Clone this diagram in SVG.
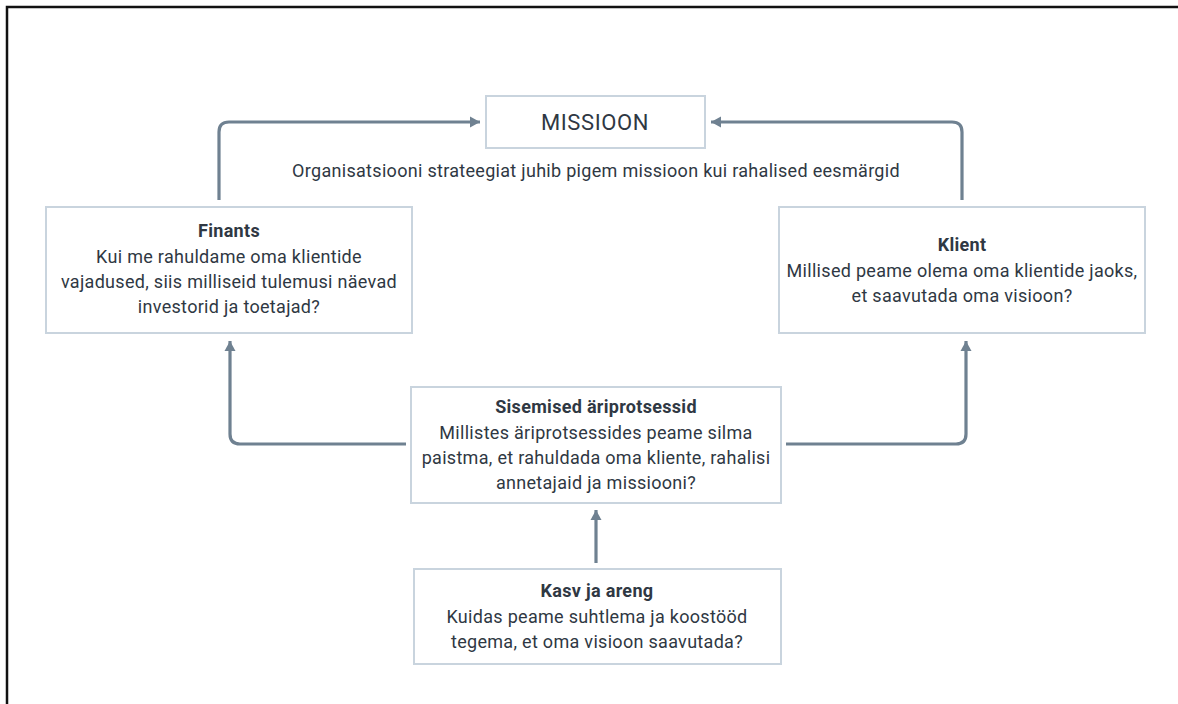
<svg xmlns="http://www.w3.org/2000/svg" width="1178" height="704" viewBox="0 0 1178 704">
  <style>
    .box { fill: #ffffff; stroke: #c9d4de; stroke-width: 2; }
    .txt { font-family: Roboto, "Noto Sans", "Liberation Sans", sans-serif; font-size: 18px; letter-spacing: 0.3px; fill: #2f3843; text-anchor: middle; }
    .ttl { font-weight: bold; }
    .big { font-size: 22px; letter-spacing: 0.6px; }
    .edge { fill: none; stroke: #6f8191; stroke-width: 3.2; stroke-linejoin: round; }
  </style>
  <defs>
    <marker id="arrow" markerUnits="userSpaceOnUse" markerWidth="14" markerHeight="14" viewBox="0 0 14 14" refX="12" refY="7" orient="auto">
      <path d="M2,1.5 L12,7 L2,12.5 Z" fill="#6f8191"/>
    </marker>
  </defs>

  <rect width="1178" height="704" fill="#ffffff"/>
  <!-- outer frame (top and left edges) -->
  <path d="M7,704 V7 H1178" fill="none" stroke="#111111" stroke-width="2.5"/>

  <g id="connectors">
    <path class="edge" d="M219,200 V132 Q219,122 229,122 H480" marker-end="url(#arrow)"/>
    <path class="edge" d="M962,200 V132 Q962,122 952,122 H711" marker-end="url(#arrow)"/>
    <path class="edge" d="M406,444 H240 Q230,444 230,434 V341" marker-end="url(#arrow)"/>
    <path class="edge" d="M786,444 H956 Q966,444 966,434 V341" marker-end="url(#arrow)"/>
    <path class="edge" d="M596,563 V510" marker-end="url(#arrow)"/>
  </g>

  <g id="missioon">
    <rect class="box" x="486" y="96" width="219" height="52"/>
    <text class="txt big" x="595" y="130">MISSIOON</text>
  </g>

  <g id="caption">
    <text class="txt" x="596" y="177">Organisatsiooni strateegiat juhib pigem missioon kui rahalised eesmärgid</text>
  </g>

  <g id="finants">
    <rect class="box" x="46" y="207" width="366" height="126"/>
    <text class="txt ttl" x="229" y="237">Finants</text>
    <text class="txt" x="229" y="263">Kui me rahuldame oma klientide</text>
    <text class="txt" x="229" y="288">vajadused, siis milliseid tulemusi näevad</text>
    <text class="txt" x="229" y="313">investorid ja toetajad?</text>
  </g>

  <g id="klient">
    <rect class="box" x="779" y="207" width="366" height="126"/>
    <text class="txt ttl" x="962" y="251">Klient</text>
    <text class="txt" x="962" y="277">Millised peame olema oma klientide jaoks,</text>
    <text class="txt" x="962" y="302">et saavutada oma visioon?</text>
  </g>

  <g id="sisemised">
    <rect class="box" x="411" y="387" width="370" height="116"/>
    <text class="txt ttl" x="596" y="413">Sisemised äriprotsessid</text>
    <text class="txt" x="596" y="439">Millistes äriprotsessides peame silma</text>
    <text class="txt" x="596" y="464">paistma, et rahuldada oma kliente, rahalisi</text>
    <text class="txt" x="596" y="489">annetajaid ja missiooni?</text>
  </g>

  <g id="kasv">
    <rect class="box" x="414" y="569" width="367" height="95"/>
    <text class="txt ttl" x="597" y="597">Kasv ja areng</text>
    <text class="txt" x="597" y="623">Kuidas peame suhtlema ja koostööd</text>
    <text class="txt" x="597" y="648">tegema, et oma visioon saavutada?</text>
  </g>
</svg>
